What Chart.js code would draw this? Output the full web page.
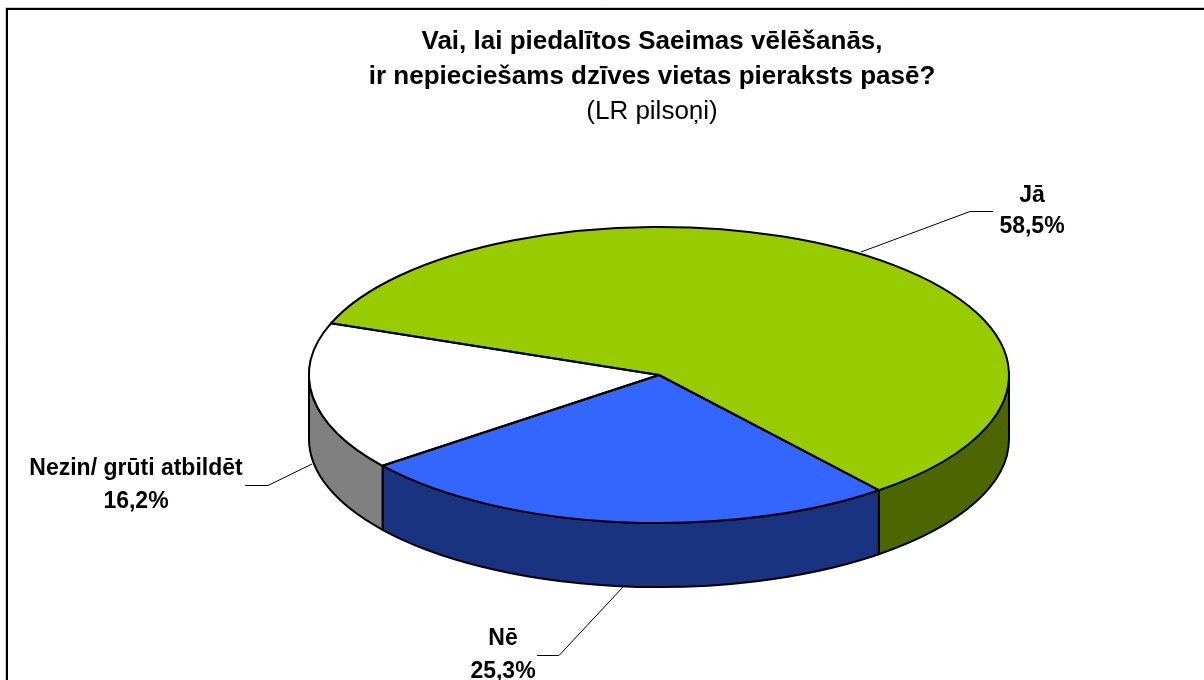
<!DOCTYPE html>
<html><head><meta charset="utf-8">
<style>html,body{margin:0;padding:0;background:#fff;overflow:hidden}#w{width:1204px;height:680px;position:relative}</style>
<script src="https://cdn.jsdelivr.net/npm/chart.js@4"></script></head>
<body><div id="w"><canvas id="c" width="1204" height="680"></canvas></div>
<script>
const categories = ['Jā', 'Nē', 'Nezin/ grūti atbildēt'];
const values = [58.5, 25.3, 16.2];
const topColors = ['#99cc00', '#3366ff', '#ffffff'];
const sideColors = ['#4d6600', '#1a3380', '#808080'];
const titleLines = ['Vai, lai piedalītos Saeimas vēlēšanās,', 'ir nepieciešams dzīves vietas pieraksts pasē?'];
const subtitleText = '(LR pilsoņi)';

const FONT = '"Liberation Sans", Arial, sans-serif';
const view = {x: 659, y: 375, squash: 0.423, depth: 64};
const labelStyle = [
  {x: 1032, y: 196, gap: 31, line: [[861,252],[970,211.5],[993,211.5]]},
  {x: 503,  y: 639, gap: 33, line: [[623,587],[559,655.5],[537,655.5]]},
  {x: 136,  y: 469, gap: 33, line: [[312,464],[268,485.5],[245,485.5]]}
];

const pie3d = {
  id: 'pie3d',
  beforeDraw(chart) {
    const c = chart.ctx;
    c.save();
    c.strokeStyle = '#d0d0d0'; c.lineWidth = 1;
    c.beginPath(); c.moveTo(5.5, 680); c.lineTo(5.5, 7.5); c.lineTo(1204, 7.5); c.stroke();
    c.strokeStyle = '#000'; c.lineWidth = 2;
    c.beginPath(); c.moveTo(7, 680); c.lineTo(7, 9); c.lineTo(1204, 9); c.stroke();
    c.restore();
  },
  beforeDatasetsDraw(chart) {
    const c = chart.ctx, arcs = chart.getDatasetMeta(0).data;
    const v = view, R = arcs[0].outerRadius, ry = R * v.squash;
    c.save();
    c.lineWidth = 2; c.strokeStyle = '#000'; c.lineJoin = 'round';
    arcs.forEach((a, i) => {
      const two = Math.PI * 2;
      for (const shift of [0, two, -two]) {
        const a0 = Math.max(a.startAngle + shift, 0), a1 = Math.min(a.endAngle + shift, Math.PI);
        if (a1 <= a0) continue;
        c.beginPath();
        c.ellipse(v.x, v.y, R, ry, 0, a0, a1);
        c.ellipse(v.x, v.y + v.depth, R, ry, 0, a1, a0, true);
        c.closePath();
        c.fillStyle = sideColors[i];
        c.fill(); c.stroke();
      }
    });
    c.restore();
    const el0 = arcs[0];
    c.save();
    c.translate(v.x, v.y); c.scale(1, v.squash); c.translate(-el0.x, -el0.y);
  },
  afterDatasetsDraw(chart) {
    const c = chart.ctx, arcs = chart.getDatasetMeta(0).data;
    c.restore();
    const v = view, R = arcs[0].outerRadius, ry = R * v.squash;
    c.save();
    c.lineWidth = 2; c.strokeStyle = '#000'; c.lineJoin = 'round';
    arcs.forEach(a => {
      c.beginPath();
      c.moveTo(v.x, v.y);
      c.ellipse(v.x, v.y, R, ry, 0, a.startAngle, a.endAngle);
      c.closePath();
      c.stroke();
    });
    labelStyle.forEach((s, i) => {
      c.beginPath(); c.lineWidth = 1;
      s.line.forEach((p, k) => k ? c.lineTo(p[0], p[1]) : c.moveTo(p[0], p[1]));
      c.stroke();
      c.fillStyle = '#000';
      c.font = 'bold 23px ' + FONT;
      c.textAlign = 'center'; c.textBaseline = 'middle';
      c.fillText(categories[i], s.x, s.y);
      c.fillText(values[i].toFixed(1).replace('.', ',') + '%', s.x, s.y + s.gap);
    });
    c.restore();
  }
};

new Chart(document.getElementById('c'), {
  type: 'pie',
  data: {labels: categories, datasets: [{data: values, backgroundColor: topColors, borderWidth: 0, radius: 350, rotation: -69.5}]},
  plugins: [pie3d],
  options: {
    responsive: false, animation: false,
    layout: {padding: {left: 100, top: 24, right: 0, bottom: 0}},
    plugins: {
      legend: {display: false}, tooltip: {enabled: false},
      title: {display: true, text: titleLines, color: '#000', font: {family: FONT, size: 26, weight: 'bold', lineHeight: 1.346}, padding: {top: 0, bottom: 0}},
      subtitle: {display: true, text: subtitleText, color: '#000', font: {family: FONT, size: 26, weight: 'normal', lineHeight: 1.346}, padding: {top: 0, bottom: 0}}
    }
  }
});
</script></body></html>
